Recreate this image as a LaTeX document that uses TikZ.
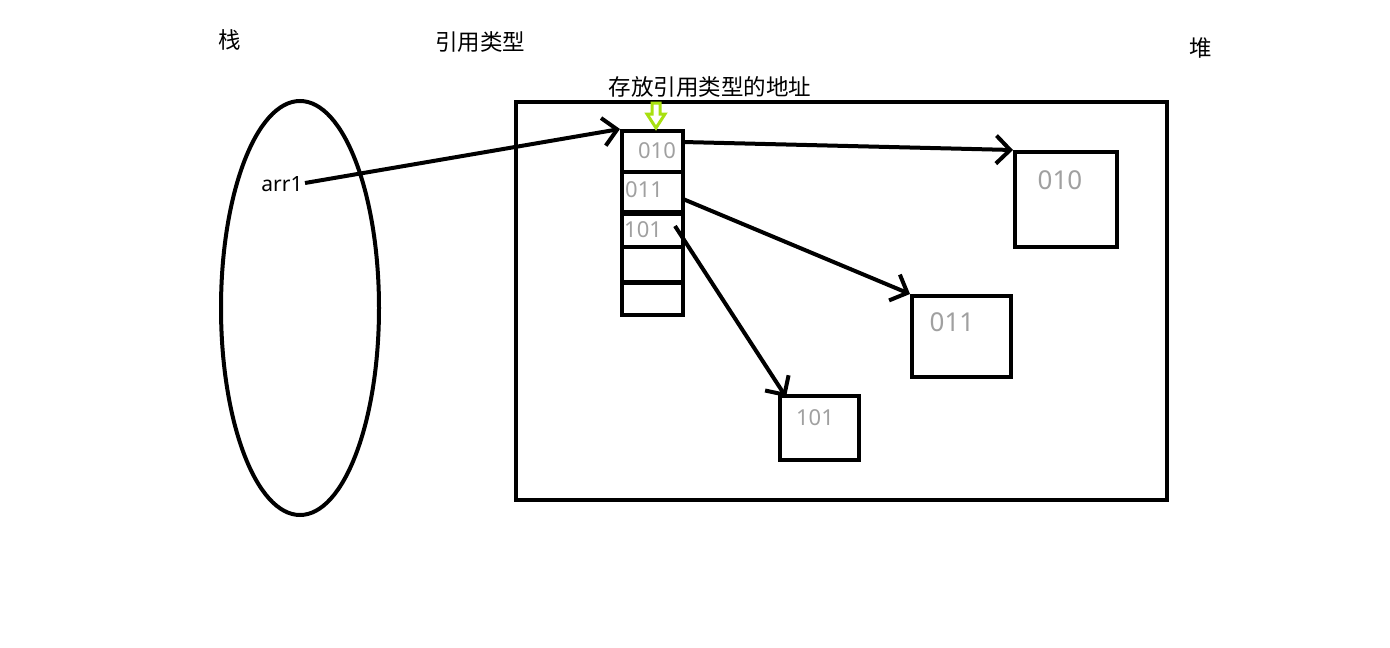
\documentclass[tikz,border=0pt]{standalone}
\usepackage{fontspec}
\newfontfamily\cjk{Noto Sans CJK SC}
\setmainfont{Noto Sans}
\usetikzlibrary{arrows.meta}
\definecolor{hand}{HTML}{A0A0A0}
\definecolor{lime}{HTML}{A8E010}
\begin{document}
\begin{tikzpicture}[x=1pt,y=-1pt,
  thick4/.style={line width=4pt},
  ptr/.style={line width=4pt,-{Straight Barb[length=14pt,width=28pt,line width=4pt]}},
  cell/.style={draw,line width=4pt,minimum width=61pt,inner sep=0pt,anchor=north west},
  heapbox/.style={draw,line width=4pt,inner sep=0pt,anchor=north west},
  lbl/.style={font=\cjk\fontsize{22.5}{24}\selectfont,text=black,inner sep=0pt},
  handtxt/.style={font=\fontsize{22}{24}\selectfont,text=hand,inner sep=0pt}]
\useasboundingbox (0,0) rectangle (1390,648);
% stack ellipse
\draw[thick4] (300,308) ellipse [x radius=79, y radius=207];
% heap rectangle
\draw[thick4] (516,102) rectangle (1167,500);
% labels
\node[lbl] (zhan) at (230,40) {栈};
\node[lbl] (yinyong) at (480,42) {引用类型};
\node[lbl] (dui) at (1201,48) {堆};
\node[lbl] (addr) at (710,87) {存放引用类型的地址};
\node[font=\fontsize{21}{22}\selectfont,inner sep=0pt] (arr) at (282,184) {arr1};
\coordinate (arrEnd) at (305,183);
% cells
\node[cell,minimum height=41pt] (c1) at (620,129) {};
\node[cell,minimum height=42pt] (c2) at (620,170) {};
\node[cell,minimum height=35pt] (c3) at (620,210) {};
\node[cell,minimum height=36pt] (c4) at (620,245) {};
\node[cell,minimum height=33pt] (c5) at (620,280) {};
\node[handtxt] at (657,151) {010};
\node[handtxt,anchor=west] at (625,190) {011};
\node[handtxt,anchor=west] at (624,230) {101};
% heap boxes
\node[heapbox,minimum width=102pt,minimum height=95pt] (b1) at (1013,150) {};
\node[heapbox,minimum width=99pt,minimum height=81pt] (b2) at (910,294) {};
\node[heapbox,minimum width=79pt,minimum height=64pt] (b3) at (778,394) {};
\node[handtxt,font=\fontsize{26}{28}\selectfont] at (1060,180) {010};
\node[handtxt,font=\fontsize{26}{28}\selectfont] at (952,322) {011};
\node[handtxt] at (815,418) {101};
% green marker arrow
\draw[lime,line width=3pt,line join=miter]
  (652,103) -- (660,103) -- (660,114) -- (665,114) -- (656,128) -- (647,114) -- (652,114) -- cycle;
% pointers
\coordinate (p1) at (683,142);
\coordinate (p2) at (683,199);
\coordinate (p3) at (675,226);
\coordinate (q3) at (786,397);
\draw[ptr] (arrEnd) -- (c1.north west);
\draw[ptr] (p1) -- (b1.north west);
\draw[ptr] (p2) -- (b2.north west);
\draw[ptr] (p3) -- (q3);
\end{tikzpicture}
\end{document}
